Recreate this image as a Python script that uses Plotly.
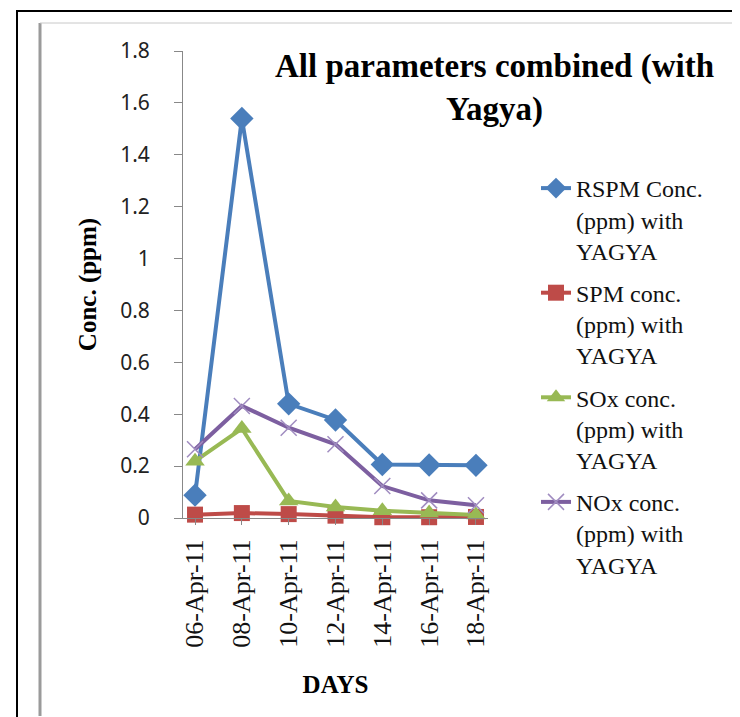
import plotly.graph_objects as go

# ---- data ----
days = ["06-Apr-11", "08-Apr-11", "10-Apr-11", "12-Apr-11", "14-Apr-11", "16-Apr-11", "18-Apr-11"]
rspm = [0.088, 1.54, 0.44, 0.378, 0.206, 0.204, 0.203]
spm = [0.013, 0.019, 0.015, 0.009, 0.003, 0.003, 0.004]
sox = [0.219, 0.345, 0.066, 0.042, 0.028, 0.019, 0.012]
nox = [0.265, 0.432, 0.348, 0.284, 0.123, 0.068, 0.049]
series_names = [
    "RSPM Conc.<br>(ppm) with<br>YAGYA",
    "SPM conc.<br>(ppm) with<br>YAGYA",
    "SOx conc.<br>(ppm) with<br>YAGYA",
    "NOx conc.<br>(ppm) with<br>YAGYA",
]
y_ticks = [0, 0.2, 0.4, 0.6, 0.8, 1.0, 1.2, 1.4, 1.6, 1.8]
y_ticktext = ["0", "0.2", "0.4", "0.6", "0.8", "1", "1.2", "1.4", "1.6", "1.8"]

W, H = 740, 717
L, R, T, B = 175, 480, 43, 510  # plot area in pixels

def px(x):
    return (x - L) / (R - L)

def py(y):
    return (B - y) / (B - T)

xi = list(range(len(days)))
serif = "Liberation Serif, Times New Roman, serif"

fig = go.Figure()
styles = [
    dict(color="#4A7EBB", symbol="diamond", size=18, mline=None),
    dict(color="#BE4B48", symbol="square", size=16, mline=None),
    dict(color="#98B954", symbol="triangle-up", size=17, mline=None),
    dict(color="#7D5FA0", symbol="x-thin", size=16, mline="#A08CC0"),
]
for vals, name, st, g in zip([rspm, spm, sox, nox], series_names, styles, ["a", "b", "c", "d"]):
    marker = dict(symbol=st["symbol"], size=st["size"], color=st["color"])
    if st["mline"]:
        marker["line"] = dict(color=st["mline"], width=1.5)
    fig.add_trace(go.Scatter(
        x=xi, y=vals, mode="lines+markers", name=name, legendgroup=g,
        line=dict(color=st["color"], width=4),
        marker=marker, cliponaxis=False,
    ))

shapes = [
    # outer black frame
    dict(type="rect", xref="paper", yref="paper", x0=px(9), x1=px(735), y0=py(725), y1=py(3),
         line=dict(color="black", width=2), layer="below"),
    # inner chart-area frame (grey, left & top)
    dict(type="line", xref="paper", yref="paper", x0=px(32), x1=px(32), y0=py(708), y1=py(15),
         line=dict(color="#9A9A9A", width=3), layer="below"),
    dict(type="line", xref="paper", yref="paper", x0=px(32), x1=px(734), y0=py(15), y1=py(15),
         line=dict(color="#C8C8C8", width=1), layer="below"),
]

fig.update_layout(
    width=W, height=H,
    margin=dict(l=L, r=W - R, t=T, b=H - B, autoexpand=False),
    paper_bgcolor="white", plot_bgcolor="white",
    shapes=shapes,
    showlegend=True,
    legend=dict(
        x=px(528), y=py(158), xanchor="left", yanchor="top", valign="top",
        font=dict(family=serif, size=24, color="#111"),
        tracegroupgap=8, bgcolor="rgba(0,0,0,0)",
    ),
    annotations=[
        dict(text="<b>All parameters combined (with<br>Yagya)</b>", xref="paper", yref="paper",
             x=px(486), y=py(80), xanchor="center", yanchor="middle", showarrow=False,
             font=dict(family=serif, size=33, color="black")),
    ],
)

fig.update_xaxes(
    range=[-0.257, 6.257], tickmode="array", tickvals=xi, ticktext=days,
    tickangle=-90, tickfont=dict(family=serif, size=26, color="#111"),
    showgrid=False, zeroline=False, showline=True, linecolor="#888", linewidth=1,
    ticks="outside", ticklen=6, tickcolor="#888", ticklabelstandoff=4,
    title=dict(text="<b>DAYS</b>", font=dict(family=serif, size=25, color="black"), standoff=28),
)
fig.update_yaxes(
    range=[0, 1.8], tickmode="array", tickvals=y_ticks, ticktext=y_ticktext,
    tickfont=dict(family="Noto Sans, Open Sans, sans-serif", size=21, color="#222"),
    showgrid=False, zeroline=False, showline=True, linecolor="#888", linewidth=1,
    ticks="outside", ticklen=8, tickcolor="#888", ticklabelstandoff=20,
    title=dict(text="<b>Conc. (ppm)</b>", font=dict(family=serif, size=25, color="black"), standoff=16),
)

fig.write_html("out.html")
